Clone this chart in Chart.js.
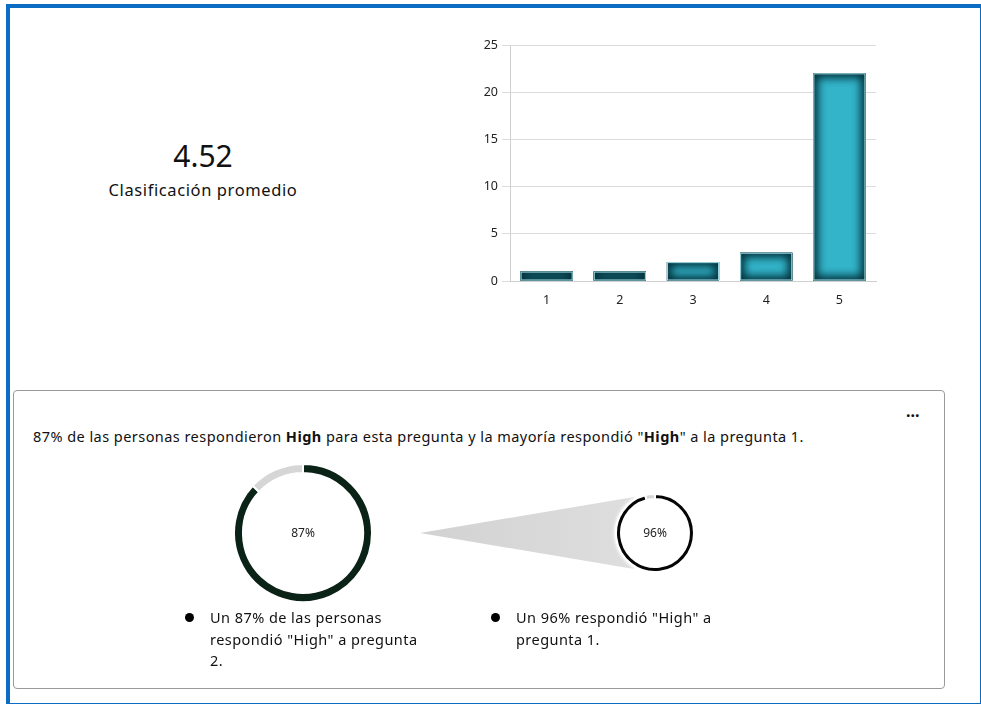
<!DOCTYPE html>
<html>
<head>
<meta charset="utf-8">
<script src="https://cdn.jsdelivr.net/npm/chart.js@4"></script>
<style>
  body { margin: 0; background: #fff; font-family: "Noto Sans", "Open Sans", sans-serif; color: #111; }
  #page { position: relative; width: 981px; height: 704px; overflow: hidden; }
  #frame { position: absolute; left: 6px; top: 4px; width: 970px; height: 695px; border: 4px solid #0b6cc4; border-right-width: 2px; border-bottom-width: 3px; }
  .abs { position: absolute; }
  #avg { left: 103px; width: 200px; top: 137px; text-align: center; font-size: 30px; line-height: 38px; }
  #avgLabel { left: 80px; width: 246px; top: 178px; text-align: center; font-size: 16.5px; letter-spacing: 0.6px; }
  #box { left: 13px; top: 390px; width: 930px; height: 297px; border: 1.5px solid #9a9a9a; border-radius: 4px; }
  #summary { left: 33px; top: 426px; font-size: 14.5px; letter-spacing: 0.45px; white-space: nowrap; }
  #dots { left: 906px; top: 404px; font-size: 16px; font-weight: bold; }
  .bullet { font-size: 14.5px; line-height: 21.5px; letter-spacing: 0.45px; white-space: nowrap; }
  .dot { position: absolute; width: 9px; height: 9px; border-radius: 50%; background: #000; }
</style>
</head>
<body>
<div id="page">
  <div id="frame"></div>
  <div id="avg" class="abs"></div>
  <div id="avgLabel" class="abs">Clasificación promedio</div>

  <div class="abs" style="left:460px;top:30px;width:425px;height:285px;"><canvas id="barChart"></canvas></div>

  <div id="box" class="abs"></div>
  <div id="dots" class="abs">···</div>
  <div id="summary" class="abs">87% de las personas respondieron <b>High</b> para esta pregunta y la mayoría respondió "<b>High</b>" a la pregunta 1.</div>

  <svg class="abs" style="left:0;top:0" width="981" height="704">
    <defs>
      <linearGradient id="cone" x1="0" y1="0" x2="1" y2="0">
        <stop offset="0" stop-color="#d2d2d2"/>
        <stop offset="1" stop-color="#dedede"/>
      </linearGradient>
      <filter id="soft"><feGaussianBlur stdDeviation="1.5"/></filter>
    </defs>
    <polygon points="420,533 634,497 634,569" fill="url(#cone)"/>
    <circle cx="655" cy="533" r="41" fill="#fff" filter="url(#soft)"/>
  </svg>

  <div class="abs" style="left:233px;top:463px;width:140px;height:140px;"><canvas id="donutMain"></canvas></div>
  <div class="abs" style="left:615px;top:493px;width:80px;height:80px;"><canvas id="donutQ1"></canvas></div>

  <div class="dot" style="left:185px;top:613px;"></div>
  <div class="abs bullet" style="left:210px;top:607px;">Un 87% de las personas<br>respondió "High" a pregunta<br>2.</div>
  <div class="dot" style="left:491px;top:613px;"></div>
  <div class="abs bullet" style="left:516px;top:607px;">Un 96% respondió "High" a<br>pregunta 1.</div>
</div>

<script>
// values
const averageRating = 4.52;
const ratingLabels = ["1", "2", "3", "4", "5"];
const ratingCounts = [1, 1, 2, 3, 22];
const mainShare = [87, 13];   // answered High to this question / rest
const q1Share = [96, 4];      // answered High to question 1 / rest

document.getElementById("avg").textContent = averageRating.toFixed(2);

const tickFont = { family: "Noto Sans", size: 12.5 };

// inner shade on each bar, like the original's bevel
const barShade = {
  id: "barShade",
  afterDatasetsDraw(chart) {
    const ctx = chart.ctx;
    chart.getDatasetMeta(0).data.forEach(bar => {
      const left = bar.x - bar.width / 2;
      const top = bar.y;
      const h = bar.base - bar.y;
      ctx.save();
      ctx.beginPath();
      ctx.rect(left, top, bar.width, h);
      ctx.clip();
      ctx.shadowColor = "#03303a";
      ctx.shadowBlur = 12;
      ctx.strokeStyle = "#03303a";
      ctx.lineWidth = 8;
      for (let i = 0; i < 3; i++) {
        ctx.strokeRect(left - 4, top - 4, bar.width + 8, h + 8);
      }
      ctx.restore();
      ctx.save();
      ctx.strokeStyle = "#a8dfe8";
      ctx.lineWidth = 1;
      ctx.strokeRect(left + 0.5, top + 0.5, bar.width - 1, h - 1);
      ctx.restore();
    });
  }
};

new Chart(document.getElementById("barChart"), {
  type: "bar",
  data: {
    labels: ratingLabels,
    datasets: [{
      data: ratingCounts,
      backgroundColor: "#33b4c9",
      barPercentage: 0.8,
      categoryPercentage: 0.89
    }]
  },
  options: {
    responsive: true,
    maintainAspectRatio: false,
    animation: false,
    layout: { padding: { top: 15, right: 9 } },
    plugins: { legend: { display: false }, tooltip: { enabled: false } },
    scales: {
      x: {
        grid: { display: false },
        border: { color: "#d0d0d0" },
        ticks: { color: "#222", font: tickFont, padding: 4 },
        afterFit(scale) { scale.height = 34; }
      },
      y: {
        min: 0,
        max: 25,
        ticks: { stepSize: 5, color: "#222", font: tickFont, padding: 4 },
        grid: { color: "#dcdcdc", tickLength: 8 },
        border: { color: "#d0d0d0" },
        afterFit(scale) { scale.width = 50; }
      }
    }
  },
  plugins: [barShade]
});

function centerText(label) {
  return {
    id: "centerText",
    afterDraw(chart) {
      const ctx = chart.ctx;
      const arc = chart.getDatasetMeta(0).data[0];
      ctx.save();
      ctx.fillStyle = "#222";
      ctx.font = "12px 'Noto Sans'";
      ctx.textAlign = "center";
      ctx.textBaseline = "middle";
      ctx.fillText(label, arc.x, arc.y + 1);
      ctx.restore();
    }
  };
}

function donut(id, values, color, cutout) {
  new Chart(document.getElementById(id), {
    type: "doughnut",
    data: {
      labels: ["High", "Otro"],
      datasets: [{
        data: values,
        backgroundColor: [color, "#d6d6d6"],
        borderColor: "#fff",
        borderWidth: 2
      }]
    },
    options: {
      responsive: true,
      maintainAspectRatio: false,
      animation: false,
      cutout: cutout,
      plugins: { legend: { display: false }, tooltip: { enabled: false } }
    },
    plugins: [centerText(values[0] + "%")]
  });
}

donut("donutMain", mainShare, "#0b2216", "87%");
donut("donutQ1", q1Share, "#050505", "87%");
</script>
</body>
</html>
